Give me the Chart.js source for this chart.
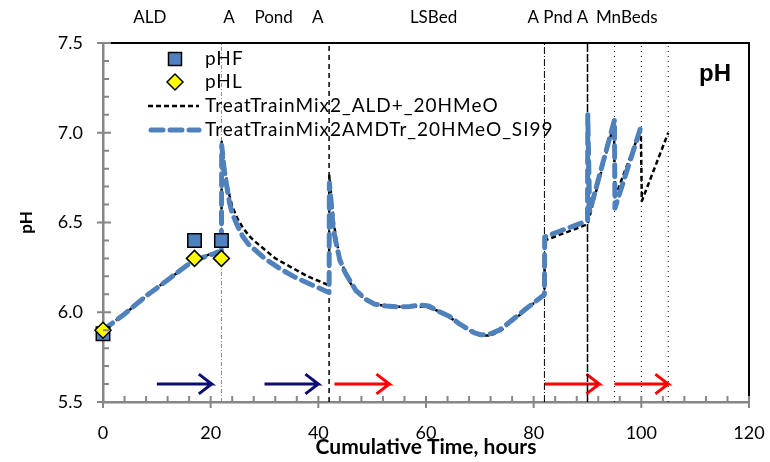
<!DOCTYPE html>
<html><head><meta charset="utf-8">
<script src="https://cdn.jsdelivr.net/npm/chart.js@4.4.0/dist/chart.umd.min.js"></script>
<style>html,body{margin:0;padding:0;background:#fff;}canvas{display:block}</style>
</head><body>
<canvas id="c" width="770" height="462"></canvas>
<script>
// ---------- data ----------
const pHF_time = [0, 17, 22];
const pHF_vals = [5.88, 6.40, 6.40];
const pHL_time = [0, 17, 22];
const pHL_vals = [5.90, 6.30, 6.30];

const ald_time = [0, 4, 8, 12, 16, 18, 20, 22,
  22.05, 22.5, 23, 23.5, 24, 25, 26, 27, 28, 30, 32, 35, 38, 42,
  42.05, 42.5, 43, 43.5, 44, 45, 46, 47, 48, 50, 53, 57, 60, 62, 64, 66, 68, 70, 72, 74, 76, 78, 80, 82,
  82.05, 90, 94.9, 95.1, 99.9, 100.1, 105];
const ald_pH = [5.90, 5.99, 6.09, 6.18, 6.27, 6.30, 6.325, 6.35,
  6.95, 6.82, 6.73, 6.65, 6.59, 6.52, 6.47, 6.43, 6.40, 6.35, 6.30, 6.25, 6.20, 6.15,
  6.76, 6.62, 6.47, 6.38, 6.31, 6.22, 6.16, 6.12, 6.09, 6.05, 6.03, 6.03, 6.03, 6.01, 5.98, 5.94, 5.90, 5.87, 5.87, 5.90, 5.95, 6.00, 6.05, 6.09,
  6.40, 6.49, 7.05, 6.64, 7.02, 6.62, 7.00];

const amd_time = [0, 4, 8, 12, 16, 18, 20, 22,
  22.05, 22.5, 23, 23.5, 24, 25, 26, 27, 28.5, 30, 33, 36, 39, 42,
  42.05, 42.4, 42.7, 43.2, 44, 45, 45.8, 47, 48.9, 50.5, 52.6, 55, 57, 59, 60.5, 62, 64.4, 66, 67.5, 69, 70.3, 72, 73.7, 75.3, 76.8, 78.4, 79.9, 81, 82,
  82.05, 90, 90.05, 90.4, 95, 95.1, 100];
const amd_pH = [5.90, 5.99, 6.09, 6.18, 6.27, 6.30, 6.32, 6.34,
  6.93, 6.80, 6.70, 6.61, 6.55, 6.48, 6.42, 6.38, 6.34, 6.30, 6.24, 6.19, 6.15, 6.11,
  6.72, 6.61, 6.48, 6.40, 6.29, 6.22, 6.18, 6.12, 6.07, 6.045, 6.035, 6.03, 6.032, 6.04, 6.035, 6.01, 5.976, 5.94, 5.912, 5.885, 5.874, 5.88, 5.902, 5.94, 5.976, 6.015, 6.05, 6.075, 6.10,
  6.42, 6.51, 7.10, 6.56, 7.07, 6.58, 7.04];

const stageLines = [22, 42, 82, 90, 95, 100, 105];
const stageLabels = ['ALD', 'A', 'Pond', 'A', 'LSBed', 'A Pnd A', 'MnBeds'];
const stageLabelAt = [8.7, 23.4, 31.7, 39.9, 61.4, 84.5, 97.3];

const arrowStart = [10, 30, 43, 82, 95];
const arrowEnd = [20.2, 40, 53.2, 92.2, 105];
const arrowKind = ['navy', 'navy', 'red', 'red', 'red'];
const arrowLevel = 5.6;

const xTickValues = [0, 20, 40, 60, 80, 100, 120];
const yTickValues = [5.5, 6.0, 6.5, 7.0, 7.5];

const seriesNames = ['pHF', 'pHL', 'TreatTrainMix2_ALD+_20HMeO', 'TreatTrainMix2AMDTr_20HMeO_SI99'];

// ---------- styles ----------
const BLUE = '#4F81BD';
const lineStyles = [
  {color: '#8c8c8c', width: 1, dash: [4, 2, 1, 2]},
  {color: '#000', width: 1.5, dash: [5, 4]},
  {color: '#000', width: 1, dash: [7, 2, 1, 2]},
  {color: '#000', width: 1.5, dash: [8, 2]},
  {color: '#000', width: 1, dash: [1, 4]},
  {color: '#000', width: 1, dash: [1, 4]},
  {color: '#000', width: 1, dash: [1, 4]}
];
const arrowColors = {navy: '#0d0d73', red: '#ff0000'};
const FONT = 'Lato, "Open Sans", sans-serif';

const zip = (xs, ys) => xs.map((x, i) => ({x, y: ys[i]}));

const datasets = [
  {label: seriesNames[1], data: zip(pHL_time, pHL_vals), showLine: false, pointStyle: 'rectRot', clip: false,
    pointRadius: 8, backgroundColor: '#ffff00', borderColor: '#000', borderWidth: 1.5},
  {label: seriesNames[0], data: zip(pHF_time, pHF_vals), showLine: false, pointStyle: 'rect', clip: false,
    pointRadius: 9.5, backgroundColor: BLUE, borderColor: '#000', borderWidth: 1.5},
  {label: seriesNames[3], data: zip(amd_time, amd_pH), showLine: true, pointRadius: 0, tension: 0,
    borderColor: BLUE, borderWidth: 5, borderDash: [12, 7], borderCapStyle: 'round', borderJoinStyle: 'round'},
  {label: seriesNames[2], data: zip(ald_time, ald_pH), showLine: true, pointRadius: 0, tension: 0,
    borderColor: '#000', borderWidth: 2.5, borderDash: [5, 3], borderJoinStyle: 'round'}
];
stageLines.forEach((t, i) => {
  const s = lineStyles[i];
  datasets.push({label: 'stage' + i, data: [{x: t, y: 5.5}, {x: t, y: 7.5}], showLine: true, pointRadius: 0,
    borderColor: s.color, borderWidth: s.width, borderDash: s.dash});
});
arrowStart.forEach((t0, i) => {
  const t1 = arrowEnd[i];
  const head = 2.4, hh = 0.055;
  datasets.push({label: 'arrow' + i,
    data: [{x: t0, y: arrowLevel}, {x: t1, y: arrowLevel}, {x: t1 - head, y: arrowLevel + hh},
           {x: t1, y: arrowLevel}, {x: t1 - head, y: arrowLevel - hh}],
    showLine: true, pointRadius: 0, borderColor: arrowColors[arrowKind[i]], borderWidth: 3,
    borderJoinStyle: 'miter', borderCapStyle: 'butt'});
});

const decor = {
  id: 'decor',
  afterDraw(chart) {
    const {ctx, chartArea: a, scales: {x, y}} = chart;
    ctx.save();
    ctx.strokeStyle = '#000'; ctx.lineWidth = 2; ctx.setLineDash([]);
    ctx.beginPath(); ctx.moveTo(a.left, a.top); ctx.lineTo(a.right, a.top); ctx.lineTo(a.right, a.bottom); ctx.stroke();
    ctx.strokeStyle = '#868686'; ctx.lineWidth = 2;
    ctx.beginPath();
    for (let t = 0; t <= 120; t += 4) {
      const px = x.getPixelForValue(t);
      if (t % 20 === 0) { ctx.moveTo(px, a.bottom - 6); ctx.lineTo(px, a.bottom + 6); }
      else { ctx.moveTo(px, a.bottom); ctx.lineTo(px, a.bottom - 6); }
    }
    for (let k = 0; k <= 20; k++) {
      const v = 5.5 + k * 0.1;
      const py = y.getPixelForValue(v);
      if (k % 5 === 0) { ctx.moveTo(a.left - 6, py); ctx.lineTo(a.left + 8, py); }
      else { ctx.moveTo(a.left, py); ctx.lineTo(a.left + 6, py); }
    }
    ctx.stroke();
    ctx.fillStyle = '#000'; ctx.font = '17px ' + FONT; ctx.textAlign = 'center'; ctx.textBaseline = 'middle';
    stageLabels.forEach((s, i) => ctx.fillText(s, x.getPixelForValue(stageLabelAt[i]), 18));
    ctx.font = 'bold 21px ' + FONT;
    ctx.fillText('Cumulative Time, hours', (a.left + a.right) / 2, 447);
    ctx.save(); ctx.translate(27, (a.top + a.bottom) / 2); ctx.rotate(-Math.PI / 2);
    ctx.font = 'bold 17px ' + FONT; ctx.fillText('pH', 0, 0); ctx.restore();
    ctx.font = 'bold 24px "Liberation Sans", Arial, sans-serif'; ctx.textBaseline = 'alphabetic';
    ctx.fillText('pH', 715, 81);
    // legend
    const lx = a.left + 72, tx = a.left + 102, rows = [59, 82, 106, 130];
    ctx.fillStyle = BLUE; ctx.fillRect(lx - 6.5, rows[0] - 6.5, 13, 13);
    ctx.strokeStyle = '#000'; ctx.lineWidth = 1.5; ctx.strokeRect(lx - 6.5, rows[0] - 6.5, 13, 13);
    ctx.beginPath(); ctx.moveTo(lx - 8, rows[1]); ctx.lineTo(lx, rows[1] - 8); ctx.lineTo(lx + 8, rows[1]); ctx.lineTo(lx, rows[1] + 8); ctx.closePath();
    ctx.fillStyle = '#ffff00'; ctx.fill(); ctx.stroke();
    ctx.beginPath(); ctx.setLineDash([5, 3]); ctx.lineWidth = 2.5; ctx.strokeStyle = '#000';
    ctx.moveTo(lx - 27, rows[2]); ctx.lineTo(lx + 24, rows[2]); ctx.stroke();
    ctx.beginPath(); ctx.setLineDash([12, 7]); ctx.lineWidth = 5; ctx.lineCap = 'round'; ctx.strokeStyle = BLUE;
    ctx.moveTo(lx - 24, rows[3]); ctx.lineTo(lx + 24, rows[3]); ctx.stroke();
    ctx.setLineDash([]); ctx.lineCap = 'butt';
    ctx.fillStyle = '#000'; ctx.textAlign = 'left'; ctx.textBaseline = 'middle'; ctx.font = '19px ' + FONT;
    if ('letterSpacing' in ctx) ctx.letterSpacing = '1px';
    [0, 1, 2, 3].forEach(i => ctx.fillText(seriesNames[i], tx, rows[i]));
    ctx.restore();
  }
};

new Chart(document.getElementById('c'), {
  type: 'scatter',
  data: {datasets},
  plugins: [decor],
  options: {
    responsive: false, animation: false, devicePixelRatio: 1,
    layout: {padding: {top: 43, right: 21, left: 0, bottom: 0}},
    plugins: {legend: {display: false}, tooltip: {enabled: false}},
    scales: {
      x: {type: 'linear', min: 0, max: 120,
        afterBuildTicks: s => { s.ticks = xTickValues.map(v => ({value: v})); },
        ticks: {color: '#000', font: {family: FONT, size: 18}, padding: 20, maxRotation: 0},
        grid: {display: false, drawTicks: false},
        border: {display: true, color: '#868686', width: 2.5},
        afterFit: s => { s.height = 60; s.paddingLeft = 0; s.paddingRight = 0; }},
      y: {type: 'linear', min: 5.5, max: 7.5,
        afterBuildTicks: s => { s.ticks = yTickValues.map(v => ({value: v})); },
        ticks: {color: '#000', font: {family: FONT, size: 18}, padding: 20, callback: v => Number(v).toFixed(1)},
        grid: {display: false, drawTicks: false},
        border: {display: true, color: '#868686', width: 2.5},
        afterFit: s => { s.width = 103; s.paddingTop = 0; s.paddingBottom = 0; }}
    }
  }
});
</script>
</body></html>
